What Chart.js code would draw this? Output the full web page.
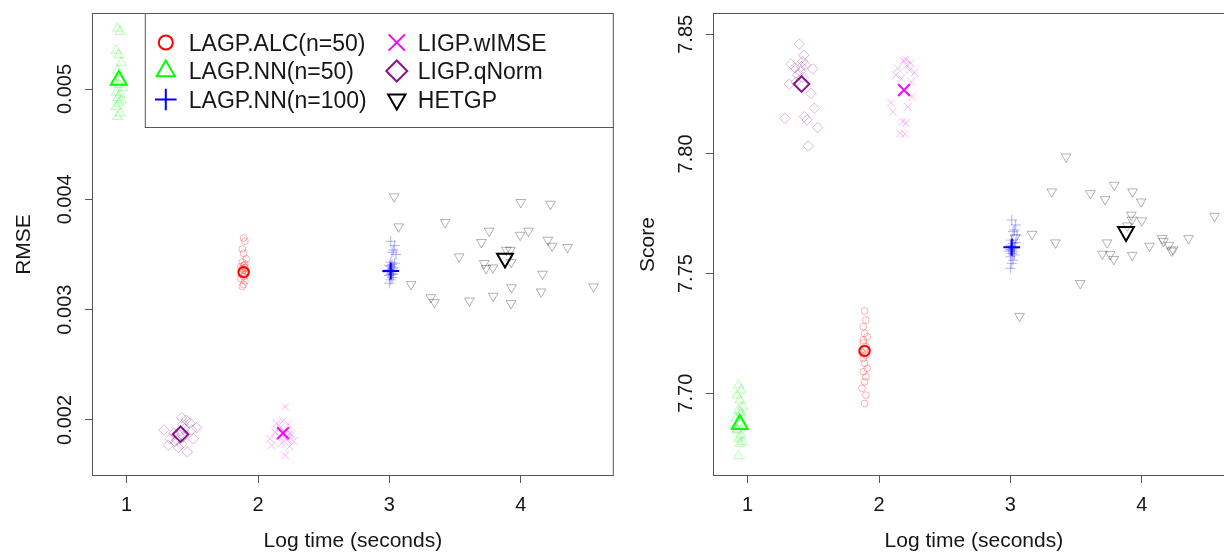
<!DOCTYPE html>
<html>
<head>
<meta charset="utf-8">
<script src="https://cdn.jsdelivr.net/npm/chart.js@4.4.1/dist/chart.umd.min.js"></script>
<style>
  html, body { margin: 0; padding: 0; background: #fff; overflow: hidden; }
  #wrap { position: relative; width: 1224px; height: 552px; overflow: hidden; }
  .panel { position: absolute; top: 0; width: 625px; height: 552px; }
  #leftPanel { left: 0; }
  #rightPanel { left: 621px; }
</style>
</head>
<body>
<div id="wrap">
  <div class="panel" id="leftPanel"><canvas id="rmseChart"></canvas></div>
  <div class="panel" id="rightPanel"><canvas id="scoreChart"></canvas></div>
</div>
<script>
// --- assi ---
const timeTicks = [1, 2, 3, 4];
const rmseTicks = [0.002, 0.003, 0.004, 0.005];
const scoreTicks = [7.70, 7.75, 7.80, 7.85];

const methodNames = ['LAGP.ALC(n=50)', 'LAGP.NN(n=50)', 'LAGP.NN(n=100)', 'LIGP.wIMSE', 'LIGP.qNorm', 'HETGP'];

// --- repliche per metodo (log tempo, RMSE, score) ---
const alcTime = [1.89, 1.90, 1.88, 1.89, 1.91, 1.88, 1.90, 1.89, 1.87, 1.90, 1.88, 1.89, 1.91, 1.88, 1.90, 1.89, 1.87, 1.90, 1.89, 1.88];
const alcRmse = [0.00365, 0.00362, 0.00355, 0.00351, 0.00346, 0.00343, 0.00341, 0.00340, 0.00339, 0.00338, 0.00337, 0.00336, 0.00335, 0.00334, 0.00332, 0.00330, 0.00328, 0.00326, 0.00323, 0.00321];
const alcScore = [7.7344, 7.7306, 7.7278, 7.7250, 7.7236, 7.7222, 7.7194, 7.7180, 7.7170, 7.7160, 7.7145, 7.7125, 7.7104, 7.7090, 7.7069, 7.7048, 7.7020, 7.6992, 7.6957, 7.7210];

const nn50Time = [0.93, 0.95, 0.92, 0.94, 0.96, 0.93, 0.95, 0.91, 0.94, 0.97, 0.92, 0.95, 0.93, 0.96, 0.94, 0.92, 0.95, 0.93];
const nn50Rmse = [0.00555, 0.00552, 0.00535, 0.00531, 0.00524, 0.00517, 0.00510, 0.00506, 0.00504, 0.00501, 0.00497, 0.00495, 0.00492, 0.00490, 0.00487, 0.00484, 0.00478, 0.00475];
const nn50Score = [7.7034, 7.7013, 7.6992, 7.6971, 7.6943, 7.6930, 7.6908, 7.6895, 7.6874, 7.6860, 7.6846, 7.6825, 7.6811, 7.6797, 7.6790, 7.6850, 7.6920, 7.6737];

const nn100Time = [3.01, 3.04, 3.03, 3.02, 3.05, 3.01, 3.04, 3.02, 3.00, 3.01, 3.03, 3.02, 3.00, 3.01, 2.99, 3.02, 3.01, 3.03, 3.00, 3.02, 3.01, 3.00];
const nn100Rmse = [0.00362, 0.00358, 0.00354, 0.00352, 0.00350, 0.00343, 0.00342, 0.00341, 0.00340, 0.00339, 0.00338, 0.00337, 0.00336, 0.00335, 0.00334, 0.00333, 0.00332, 0.00332, 0.00331, 0.00329, 0.00327, 0.00324];
const nn100Score = [7.7724, 7.7703, 7.7682, 7.7675, 7.7661, 7.7640, 7.7630, 7.7626, 7.7618, 7.7612, 7.7608, 7.7605, 7.7600, 7.7598, 7.7594, 7.7591, 7.7584, 7.7578, 7.7570, 7.7556, 7.7543, 7.7522];

const wimseTime = [2.206, 2.188, 2.142, 2.231, 2.168, 2.129, 2.244, 2.091, 2.219, 2.104, 2.180, 2.206, 2.161, 2.196, 2.250, 2.270, 2.211, 2.240];
const wimseRmse = [0.00212, 0.00199, 0.00197, 0.00196, 0.00193, 0.00189, 0.00188, 0.00183, 0.00182, 0.00177, 0.00179, 0.00168, 0.00185, 0.00190, 0.00186, 0.00181, 0.00184, 0.00176];
const wimseScore = [7.8395, 7.8390, 7.8358, 7.8350, 7.8316, 7.8330, 7.8302, 7.8214, 7.8197, 7.8176, 7.8135, 7.8130, 7.8086, 7.8083, 7.8239, 7.8340, 7.8370, 7.8380];

const qnormTime = [1.284, 1.317, 1.330, 1.368, 1.393, 1.419, 1.427, 1.431, 1.452, 1.462, 1.482, 1.495, 1.507, 1.533, 1.400, 1.410, 1.380, 1.420, 1.440, 1.360];
const qnormRmse = [0.00191, 0.00177, 0.00183, 0.00180, 0.00175, 0.00202, 0.00196, 0.00185, 0.00200, 0.00171, 0.00197, 0.00191, 0.00183, 0.00193, 0.00186, 0.00190, 0.00182, 0.00178, 0.00192, 0.00188];
const qnormScore = [7.8149, 7.8292, 7.8376, 7.8300, 7.8459, 7.8386, 7.8413, 7.8156, 7.8142, 7.8033, 7.8253, 7.8355, 7.8191, 7.8110, 7.8345, 7.8365, 7.8330, 7.8320, 7.8372, 7.8360];

const hetTime = [3.036, 3.070, 3.165, 3.315, 3.343, 3.424, 3.531, 3.609, 3.700, 3.721, 3.736, 3.759, 3.787, 3.790, 3.890, 3.920, 3.925, 3.927, 3.930, 3.995, 4.000, 4.059, 4.155, 4.165, 4.206, 4.226, 4.239, 4.356, 4.554];
const hetRmse = [0.004024, 0.003752, 0.003229, 0.003110, 0.003066, 0.003792, 0.003480, 0.003080, 0.003610, 0.003420, 0.003374, 0.003713, 0.003380, 0.003123, 0.003540, 0.003540, 0.003057, 0.003429, 0.003200, 0.003676, 0.003973, 0.003713, 0.003162, 0.003323, 0.003631, 0.003957, 0.003577, 0.003565, 0.003208];
const hetScore = [7.7650, 7.7322, 7.7665, 7.7842, 7.7629, 7.7988, 7.7459, 7.7835, 7.7582, 7.7810, 7.7629, 7.7580, 7.7560, 7.7870, 7.7700, 7.7745, 7.7724, 7.7577, 7.7842, 7.7800, 7.7721, 7.7615, 7.7647, 7.7635, 7.7619, 7.7595, 7.7600, 7.7647, 7.7740];

// --- medie (stesso ordine di methodNames) ---
const meanTime = [1.89, 0.94, 3.01, 2.19, 1.41, 3.88];
const meanRmse = [0.00334, 0.00508, 0.00335, 0.00188, 0.00187, 0.003465];
const meanScore = [7.7177, 7.6870, 7.7610, 7.8267, 7.8292, 7.7675];

// stile dei simboli: raggi per repliche / media / legenda
const markers = [
  { color: [255, 0, 0],   pointStyle: 'circle',   rotation: 0,   small: 3.4, big: 5.2, key: 7 },
  { color: [0, 255, 0],   pointStyle: 'triangle', rotation: 0,   small: 5.6, big: 9.2, key: 10.5 },
  { color: [0, 0, 255],   pointStyle: 'cross',    rotation: 0,   small: 5.2, big: 8.4, key: 10.8 },
  { color: [255, 0, 255], pointStyle: 'crossRot', rotation: 0,   small: 5.4, big: 8.4, key: 11.5 },
  { color: [139, 20, 139], pointStyle: 'rectRot', rotation: 0,   small: 5.2, big: 7.8, key: 10.5 },
  { color: [0, 0, 0],     pointStyle: 'triangle', rotation: 180, small: 5.6, big: 9.2, key: 10 }
];

const replicates = [
  { time: alcTime, rmse: alcRmse, score: alcScore },
  { time: nn50Time, rmse: nn50Rmse, score: nn50Score },
  { time: nn100Time, rmse: nn100Rmse, score: nn100Score },
  { time: wimseTime, rmse: wimseRmse, score: wimseScore },
  { time: qnormTime, rmse: qnormRmse, score: qnormScore },
  { time: hetTime, rmse: hetRmse, score: hetScore }
];

const frameColor = '#555555';
const textColor = '#161616';
const fontFamily = "'Liberation Sans', Arial, Helvetica, sans-serif";
Chart.defaults.font.family = fontFamily;

function rgba(c, a) {
  return 'rgba(' + c[0] + ',' + c[1] + ',' + c[2] + ',' + a + ')';
}

function pointSet(data, m, radius, color, width) {
  return {
    data: data,
    showLine: false,
    pointStyle: m.pointStyle,
    pointRotation: m.rotation,
    pointRadius: radius,
    pointHoverRadius: radius,
    pointBorderColor: color,
    pointBackgroundColor: 'rgba(0,0,0,0)',
    pointBorderWidth: width,
    clip: false
  };
}

// prima tutte le repliche (sbiadite), poi le medie sopra
function buildDatasets(key, means) {
  const sets = [];
  replicates.forEach((r, k) => {
    const pts = r.time.map((t, i) => ({ x: t, y: r[key][i] }));
    sets.push(pointSet(pts, markers[k], markers[k].small, rgba(markers[k].color, 0.3), 1));
  });
  markers.forEach((m, k) => {
    sets.push(pointSet([{ x: meanTime[k], y: means[k] }], m, m.big, rgba(m.color, 1), 2));
  });
  return sets;
}

function drawMarker(ctx, m, x, y, radius, width) {
  ctx.save();
  ctx.strokeStyle = rgba(m.color, 1);
  ctx.fillStyle = 'rgba(0,0,0,0)';
  ctx.lineWidth = width;
  Chart.helpers.drawPoint(ctx, { pointStyle: m.pointStyle, rotation: m.rotation, radius: radius, borderWidth: width }, x, y);
  ctx.restore();
}

// cornice, etichette degli assi (y ruotate come in R) e legenda
const panelFrame = {
  id: 'panelFrame',
  afterDraw(chart, args, opts) {
    const ctx = chart.ctx;
    const a = chart.chartArea;
    const xs = chart.scales.x;
    const ys = chart.scales.y;
    ctx.save();

    ctx.strokeStyle = frameColor;
    ctx.lineWidth = 1;
    ctx.strokeRect(a.left + 0.5, a.top + 0.5, a.right - a.left - 1, a.bottom - a.top - 1);

    ctx.fillStyle = textColor;
    ctx.font = '20px ' + fontFamily;
    ctx.textAlign = 'center';
    ctx.textBaseline = 'alphabetic';
    timeTicks.forEach(v => {
      ctx.fillText(String(v), xs.getPixelForValue(v), a.bottom + 35);
    });
    opts.ticks.forEach(v => {
      ctx.save();
      ctx.translate(a.left - 21.5, ys.getPixelForValue(v));
      ctx.rotate(-Math.PI / 2);
      ctx.fillText(v.toFixed(opts.digits), 0, 0);
      ctx.restore();
    });

    ctx.font = '21px ' + fontFamily;
    ctx.fillText('Log time (seconds)', (a.left + a.right) / 2, a.bottom + 71);
    ctx.save();
    ctx.translate(a.left - opts.titleGap, (a.top + a.bottom) / 2);
    ctx.rotate(-Math.PI / 2);
    ctx.fillText(opts.title, 0, 0);
    ctx.restore();

    if (opts.legend) {
      const bx = a.right - 469, by = a.top;
      ctx.fillStyle = '#ffffff';
      ctx.fillRect(bx, by, 469, 114);
      ctx.strokeStyle = frameColor;
      ctx.strokeRect(bx + 0.5, by + 0.5, 468, 114);
      ctx.font = '23px ' + fontFamily;
      ctx.textAlign = 'left';
      methodNames.forEach((name, k) => {
        const col = Math.floor(k / 3);
        const row = k % 3;
        const ry = by + 29.5 + row * 28.5;
        const sx = bx + (col === 0 ? 21 : 252);
        const tx = bx + (col === 0 ? 44 : 273);
        drawMarker(ctx, markers[k], sx, ry, markers[k].key, 2);
        ctx.fillStyle = textColor;
        ctx.fillText(name, tx, ry + 8);
      });
    }
    ctx.restore();
  }
};

function makeChart(id, key, means, yMin, yMax, yTicks, digits, title, titleGap, legend) {
  return new Chart(document.getElementById(id), {
    type: 'scatter',
    data: { datasets: buildDatasets(key, means) },
    options: {
      responsive: true,
      maintainAspectRatio: false,
      animation: false,
      devicePixelRatio: 1,
      events: [],
      layout: { padding: { top: 13, right: 0, left: 0, bottom: 0 } },
      plugins: {
        legend: { display: false },
        tooltip: { enabled: false },
        panelFrame: { ticks: yTicks, digits: digits, title: title, titleGap: titleGap, legend: legend }
      },
      scales: {
        x: {
          type: 'linear',
          min: 0.736,
          max: 4.708,
          afterBuildTicks: s => { s.ticks = timeTicks.map(v => ({ value: v })); },
          afterFit: s => { s.height = 76; s.paddingLeft = 0; s.paddingRight = 0; },
          grid: { drawOnChartArea: false, drawTicks: true, tickLength: 7, color: frameColor, lineWidth: 1 },
          border: { display: false },
          ticks: { display: false }
        },
        y: {
          type: 'linear',
          min: yMin,
          max: yMax,
          afterBuildTicks: s => { s.ticks = yTicks.map(v => ({ value: v })); },
          afterFit: s => { s.width = 92; s.paddingTop = 0; s.paddingBottom = 0; },
          grid: { drawOnChartArea: false, drawTicks: true, tickLength: 7, color: frameColor, lineWidth: 1 },
          border: { display: false },
          ticks: { display: false }
        }
      }
    },
    plugins: [panelFrame]
  });
}

makeChart('rmseChart', 'rmse', meanRmse, 0.001492, 0.005689, rmseTicks, 3, 'RMSE', 62, true);
makeChart('scoreChart', 'score', meanScore, 7.6654, 7.8589, scoreTicks, 2, 'Score', 59, false);
</script>
</body>
</html>
